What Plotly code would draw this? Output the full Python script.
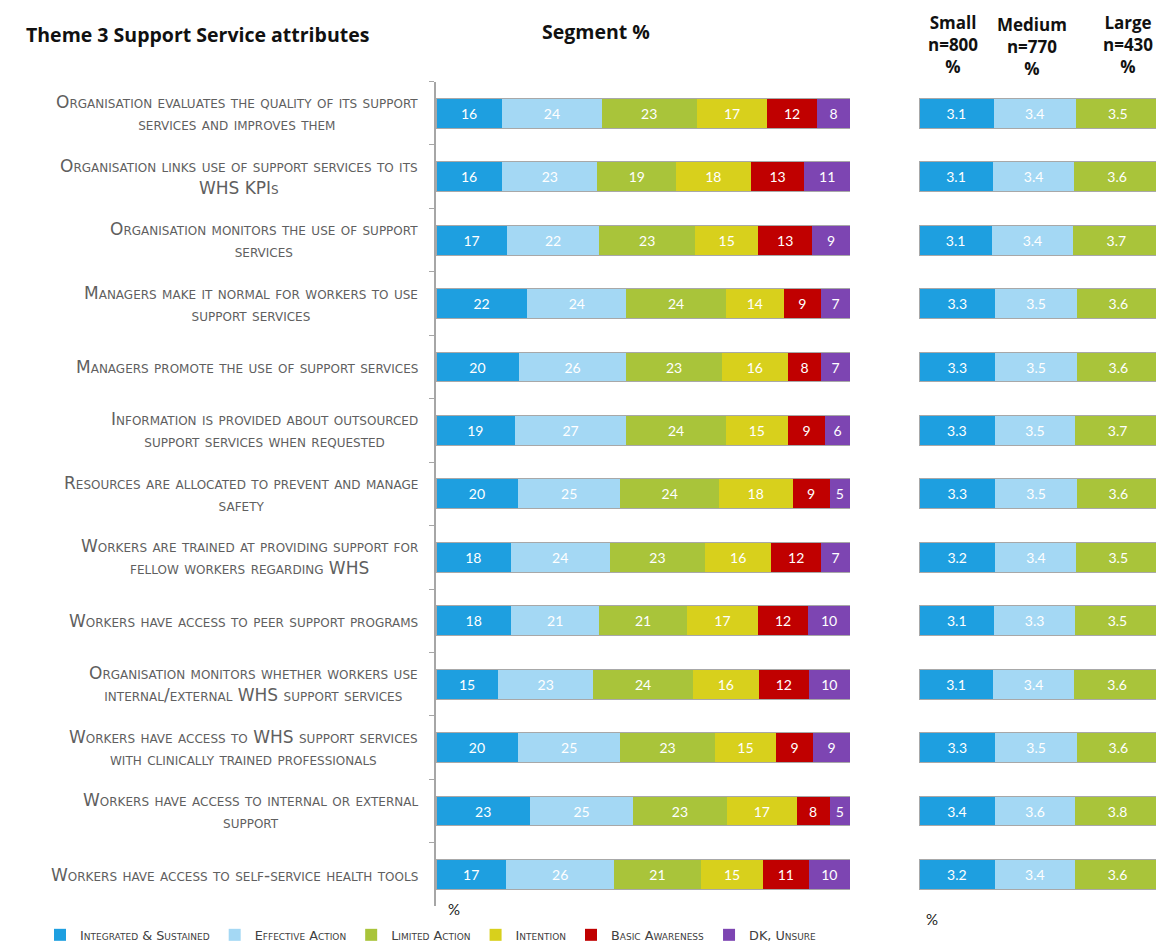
import plotly.graph_objects as go

# ── Données ───────────────────────────────────────────────────────────────────
statements = [
    "Organisation evaluates the quality of its support<br>services and improves them",
    "Organisation links use of support services to its<br>WHS KPIs",
    "Organisation monitors the use of support<br>services",
    "Managers make it normal for workers to use<br>support services",
    "Managers promote the use of support services",
    "Information is provided about outsourced<br>support services when requested",
    "Resources are allocated to prevent and manage<br>safety",
    "Workers are trained at providing support for<br>fellow workers regarding WHS",
    "Workers have access to peer support programs",
    "Organisation monitors whether workers use<br>internal/external WHS support services",
    "Workers have access to WHS support services<br>with clinically trained professionals",
    "Workers have access to internal or external<br>support",
    "Workers have access to self-service health tools",
]
row_ids = [f"r{i}" for i in range(len(statements))]

segments = ["Integrated & Sustained", "Effective Action", "Limited Action",
            "Intention", "Basic Awareness", "DK, Unsure"]
integrated = [16, 16, 17, 22, 20, 19, 20, 18, 18, 15, 20, 23, 17]
effective  = [24, 23, 22, 24, 26, 27, 25, 24, 21, 23, 25, 25, 26]
limited    = [23, 19, 23, 24, 23, 24, 24, 23, 21, 24, 23, 23, 21]
intention  = [17, 18, 15, 14, 16, 15, 18, 16, 17, 16, 15, 17, 15]
basic      = [12, 13, 13, 9, 8, 9, 9, 12, 12, 12, 9, 8, 11]
dk_unsure  = [8, 11, 9, 7, 7, 6, 5, 7, 10, 10, 9, 5, 10]
segment_values = [integrated, effective, limited, intention, basic, dk_unsure]

sizes = ["Small<br>n=800<br>%", "Medium<br>n=770<br>%", "Large<br>n=430<br>%"]
small  = [3.1, 3.1, 3.1, 3.3, 3.3, 3.3, 3.3, 3.2, 3.1, 3.1, 3.3, 3.4, 3.2]
medium = [3.4, 3.4, 3.4, 3.5, 3.5, 3.5, 3.5, 3.4, 3.3, 3.4, 3.5, 3.6, 3.4]
large  = [3.5, 3.6, 3.7, 3.6, 3.6, 3.7, 3.6, 3.5, 3.5, 3.6, 3.6, 3.8, 3.6]
size_values = [small, medium, large]

colors = ["#1E9FE0", "#A4D8F4", "#A9C43A", "#D8D01C", "#C00000", "#7D45B2"]

# la page ajoute une marge de 8 px : on travaille en pixels de la fenêtre
OFF = 8
W, H = 1164 - OFF, 950 - OFF
FONT = "Lato"
LABEL_FONT = "DejaVu Sans"
HEAD_FONT = "Open Sans"


def px(x):
    return (x - OFF) / W


def py(y):
    return 1 - (y - OFF) / H


fig = go.Figure()

# ── Barres segment % ──────────────────────────────────────────────────────────
for name, vals, col in zip(segments, segment_values, colors):
    fig.add_trace(go.Bar(
        y=row_ids, x=vals, orientation="h", name=name,
        marker=dict(color=col, line=dict(width=0)),
        text=[str(v) for v in vals], textposition="inside",
        insidetextanchor="middle", textangle=0,
        textfont=dict(color="white", size=14, family=FONT),
        hoverinfo="skip",
        xaxis="x", yaxis="y",
    ))

# ── Barres taille d'organisation ──────────────────────────────────────────────
for vals, col in zip(size_values, colors[:3]):
    fig.add_trace(go.Bar(
        y=row_ids, x=vals, orientation="h",
        marker=dict(color=col, line=dict(width=0)),
        text=[f"{v:.1f}" for v in vals], textposition="inside",
        insidetextanchor="middle", textangle=0,
        textfont=dict(color="white", size=14, family=FONT),
        showlegend=False, hoverinfo="skip",
        xaxis="x2", yaxis="y2",
    ))

# ── Contours gris autour de chaque barre complète ────────────────────────────
totals = [sum(v) for v in zip(*segment_values)]
for xa, ya in [("x3", "y"), ("x4", "y2")]:
    fig.add_trace(go.Bar(
        y=row_ids, x=totals, orientation="h",
        marker=dict(color="rgba(0,0,0,0)", line=dict(color="#A8A8A8", width=1)),
        showlegend=False, hoverinfo="skip",
        xaxis=xa, yaxis=ya,
    ))

ydom = [py(912), py(82)]
fig.update_layout(
    width=W, height=H,
    margin=dict(l=0, r=0, t=0, b=0),
    paper_bgcolor="white", plot_bgcolor="white",
    barmode="stack", barnorm="percent", bargap=0.53,
    font=dict(family=FONT, color="#404040"),
    xaxis=dict(domain=[px(436), px(850)], range=[0, 100], visible=False),
    xaxis2=dict(domain=[px(919), px(1160)], range=[0, 100], visible=False),
    xaxis3=dict(overlaying="x", range=[0, 100], visible=False),
    xaxis4=dict(overlaying="x2", range=[0, 100], visible=False),
    yaxis=dict(domain=ydom, autorange="reversed", showticklabels=False,
               showline=True, linecolor="#A6A6A6", linewidth=2,
               ticks="outside", tickson="boundaries", ticklen=5,
               tickcolor="#A6A6A6", showgrid=False, zeroline=False),
    yaxis2=dict(domain=ydom, autorange="reversed", showticklabels=False,
                anchor="x2", showline=False, showgrid=False, zeroline=False),
    legend=dict(orientation="h", x=px(40), y=py(941), yanchor="middle",
                traceorder="normal",
                font=dict(size=12.8, family=LABEL_FONT, color="#404040",
                          variant="small-caps"),
                itemwidth=30, bgcolor="rgba(0,0,0,0)"),
)

# ── Libellés des lignes ───────────────────────────────────────────────────────
for rid, label in zip(row_ids, statements):
    fig.add_annotation(
        x=px(420), xref="paper", y=rid, yref="y",
        text=label, showarrow=False, xanchor="right", yanchor="middle",
        align="center",
        font=dict(size=17, family=LABEL_FONT, color="#5F5F5F", variant="small-caps"),
    )

# ── Titres ────────────────────────────────────────────────────────────────────
fig.add_annotation(x=px(24), y=py(35), xref="paper", yref="paper",
                   text="<b>Theme 3 Support Service attributes</b>", showarrow=False,
                   xanchor="left", yanchor="middle",
                   font=dict(size=19.5, family=HEAD_FONT, color="#111111"))
fig.add_annotation(x=px(596), y=py(32), xref="paper", yref="paper",
                   text="<b>Segment %</b>", showarrow=False,
                   xanchor="center", yanchor="middle",
                   font=dict(size=19.5, family=HEAD_FONT, color="#111111"))
for cx, cy, txt in zip([953, 1032, 1128], [45, 47, 45], sizes):
    fig.add_annotation(x=px(cx), y=py(cy), xref="paper", yref="paper",
                       text=f"<b>{txt}</b>", showarrow=False,
                       xanchor="center", yanchor="middle",
                       font=dict(size=17, family=HEAD_FONT, color="#111111"))

fig.add_annotation(x=px(446), y=py(915), xref="paper", yref="paper",
                   text="%", showarrow=False, xanchor="left", yanchor="middle",
                   font=dict(size=15, family=FONT, color="#222222"))
fig.add_annotation(x=px(924), y=py(925), xref="paper", yref="paper",
                   text="%", showarrow=False, xanchor="left", yanchor="middle",
                   font=dict(size=15, family=FONT, color="#222222"))

fig.write_html("out.html")
